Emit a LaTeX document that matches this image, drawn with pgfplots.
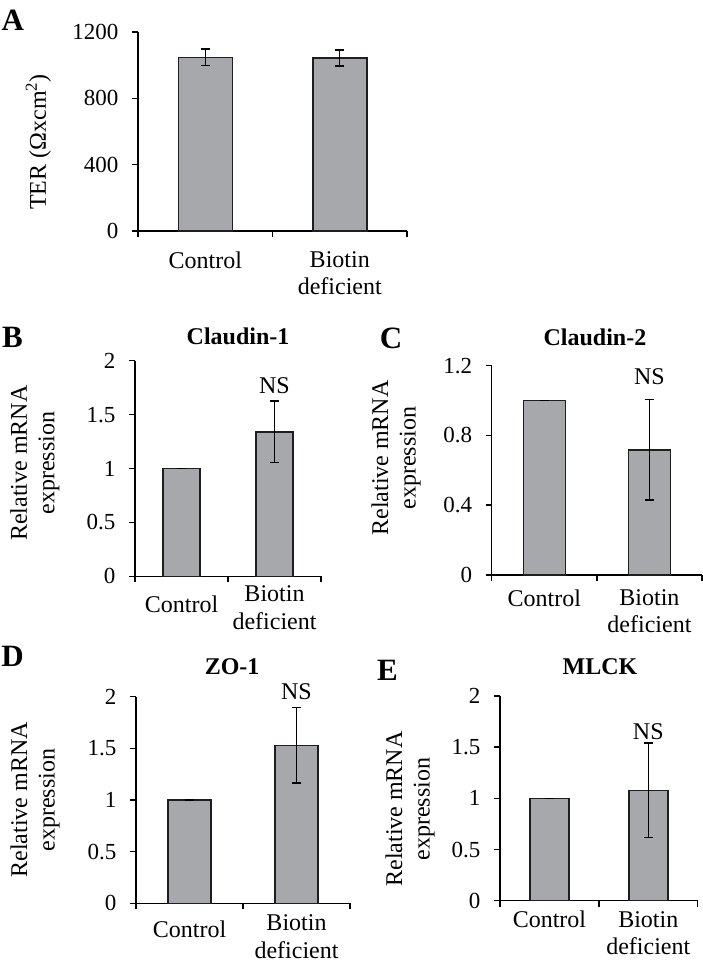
\documentclass[border=0pt]{standalone}
\usepackage{pgfplots}
\pgfplotsset{compat=1.18}
\usepackage{fontspec}
\setmainfont{Liberation Serif}
\definecolor{barfill}{RGB}{167,168,171}
\definecolor{bardraw}{RGB}{30,30,30}
\newcommand{\tickfont}{\fontsize{23bp}{27bp}\selectfont}
\newcommand{\labfont}{\fontsize{24bp}{27.5bp}\selectfont}
\pgfplotsset{
  panel/.style={
    scale only axis, anchor=south west,
    axis x line*=bottom, axis y line*=left,
    axis line style={line width=1.5bp, black},
    tick align=outside,
    major tick length=6bp,
    tick style={line width=1.5bp, black},
    xmin=-0.5, xmax=1.5, ymin=0,
    xtick={-0.5,0.5,1.5}, xticklabels={},
    extra x ticks={0,1},
    extra x tick style={major tick length=0pt},
    xticklabel style={font=\labfont, align=center},
    yticklabel style={font=\tickfont, xshift=-10bp},
    ylabel style={font=\labfont, align=center, anchor=center},
    title style={font=\labfont\bfseries, anchor=center},
    /pgf/number format/assume math mode=true,
    /pgf/number format/1000 sep={},
    ybar, bar shift=0pt,
    clip=false,
  },
  barstyle/.style={fill=barfill, draw=bardraw, line width=1.5bp,
    error bars/.cd, y dir=both, y explicit,
    error bar style={line width=1.4bp, black},
    error mark options={rotate=90, mark size=4.5bp, line width=1.4bp, black}},
}
\begin{document}
\begin{tikzpicture}
\useasboundingbox (0,0) rectangle (703bp,964bp);
% Panel A
\begin{axis}[panel, at={(138bp,733bp)}, width=269bp, height=199bp,
  ymax=1200, ytick={0,400,800,1200}, bar width=54bp,
  xticklabel style={yshift=-17bp},
  extra x tick labels={Control,Biotin\\deficient},
  ylabel={TER (Ωxcm\textsuperscript{2})},
  ylabel style={at={(axis description cs:-0.37,0.447)}}]
\addplot[barstyle] coordinates {(0,1047) +- (0,50) (1,1043) +- (0,48)};
\node[font=\fontsize{31bp}{31bp}\selectfont\bfseries] at (axis description cs:-0.465,1.06) {A};
\end{axis}
% Panel B
\begin{axis}[panel, at={(135bp,387.7bp)}, width=186bp, height=215.6bp,
  ymax=2, ytick={0,0.5,1,1.5,2}, bar width=37bp,
  xticklabel style={yshift=-6bp},
  extra x tick labels={\raisebox{-10bp}[\height][\depth]{Control},Biotin\\deficient},
  ylabel={Relative mRNA\\expression},
  ylabel style={at={(axis description cs:-0.538,0.525)}},
  title={Claudin-1}, title style={at={(axis description cs:0.554,1.087)}}]
\addplot[barstyle] coordinates {(0,1) +- (0,0) (1,1.34) +- (0,0.285)};
\node[font=\labfont] at (axis cs:1,1.765) {NS};
\node[font=\fontsize{31bp}{31bp}\selectfont\bfseries] at (axis description cs:-0.659,1.11) {B};
\end{axis}
% Panel C
\begin{axis}[panel, at={(491.7bp,389bp)}, width=210.3bp, height=209.3bp,
  ymax=1.2, ytick={0,0.4,0.8,1.2}, bar width=42bp,
  xticklabel style={yshift=-11bp},
  extra x tick labels={Control,Biotin\\deficient},
  ylabel={Relative mRNA\\expression},
  ylabel style={at={(axis description cs:-0.455,0.559)}},
  title={Claudin-2}, title style={at={(axis description cs:0.491,1.108)}}]
\addplot[barstyle] coordinates {(0,1) +- (0,0) (1,0.717) +- (0,0.288)};
\node[font=\labfont] at (axis cs:1,1.137) {NS};
\node[font=\fontsize{31bp}{31bp}\selectfont\bfseries] at (axis description cs:-0.479,1.132) {C};
\end{axis}
% Panel D
\begin{axis}[panel, at={(136bp,60.7bp)}, width=214bp, height=206.6bp,
  ymax=2, ytick={0,0.5,1,1.5,2}, bar width=43bp,
  xticklabel style={yshift=-8bp},
  extra x tick labels={\raisebox{-6bp}[\height][\depth]{Control},Biotin\\deficient},
  ylabel={Relative mRNA\\expression},
  ylabel style={at={(axis description cs:-0.472,0.5)}},
  title={ZO-1}, title style={at={(axis description cs:0.449,1.115)}}]
\addplot[barstyle] coordinates {(0,1) +- (0,0) (1,1.53) +- (0,0.366)};
\node[font=\labfont] at (axis cs:1,2.048) {NS};
\node[font=\fontsize{31bp}{31bp}\selectfont\bfseries] at (axis description cs:-0.577,1.197) {D};
\end{axis}
% Panel E
\begin{axis}[panel, at={(500bp,63.3bp)}, width=197.7bp, height=204.7bp,
  ymax=2, ytick={0,0.5,1,1.5,2}, bar width=39bp,
  xticklabel style={yshift=-7bp},
  extra x tick labels={Control,Biotin\\deficient},
  ylabel={Relative mRNA\\expression},
  ylabel style={at={(axis description cs:-0.455,0.448)}},
  title={MLCK}, title style={at={(axis description cs:0.506,1.112)}}]
\addplot[barstyle] coordinates {(0,1) +- (0,0) (1,1.078) +- (0,0.462)};
\node[font=\labfont] at (axis cs:1,1.652) {NS};
\node[font=\fontsize{31bp}{31bp}\selectfont\bfseries] at (axis description cs:-0.569,1.127) {E};
\end{axis}
\end{tikzpicture}
\end{document}
